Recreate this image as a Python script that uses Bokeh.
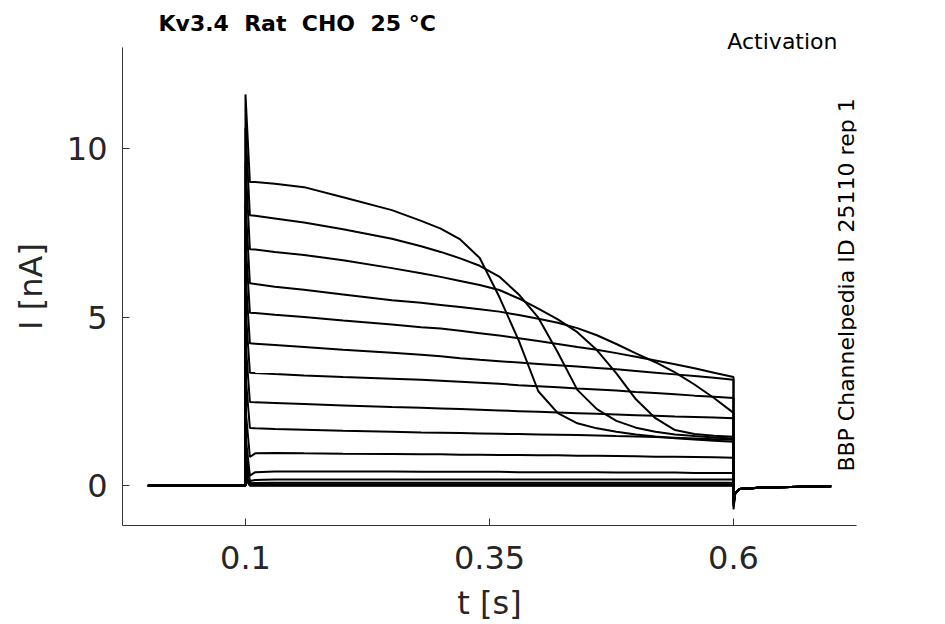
import math
from bokeh.plotting import figure
from bokeh.models import Range1d, FixedTicker, Title, Label
from bokeh.embed import file_html
from bokeh.resources import INLINE

# ---------------- data ----------------
pre_t = [0.0, 0.1]
pre_v = [0.0, 0.0]

step_t = [0.1045, 0.11, 0.13, 0.16, 0.20, 0.25, 0.28, 0.30, 0.32, 0.34, 0.36,
          0.38, 0.40, 0.42, 0.44, 0.46, 0.48, 0.50, 0.52, 0.54, 0.56, 0.58, 0.60]

peaks = [11.6, 10.6, 9.6, 8.4, 7.3, 6.3, 5.3, 4.3, 3.3, 2.3, 1.5, 1.0, 0.7, 0.5, 0.3, 0.2]

sweep_a = [9.00, 9.00, 8.95, 8.85, 8.55, 8.17, 7.85, 7.62, 7.30, 6.75, 5.60,
           4.30, 2.80, 2.15, 1.85, 1.70, 1.60, 1.52, 1.46, 1.41, 1.37, 1.33, 1.30]
sweep_b = [8.02, 8.00, 7.92, 7.80, 7.60, 7.32, 7.10, 6.93, 6.74, 6.52, 6.20,
           5.67, 4.98, 3.95, 2.84, 2.27, 1.92, 1.72, 1.60, 1.52, 1.47, 1.43, 1.40]
sweep_c = [7.01, 7.00, 6.93, 6.84, 6.68, 6.45, 6.30, 6.19, 6.07, 5.95, 5.80,
           5.55, 5.25, 4.93, 4.55, 4.02, 3.33, 2.56, 2.00, 1.65, 1.53, 1.48, 1.45]
sweep_d = [6.00, 5.98, 5.90, 5.81, 5.67, 5.50, 5.42, 5.36, 5.30, 5.23, 5.16,
           5.06, 4.95, 4.83, 4.67, 4.46, 4.20, 3.92, 3.66, 3.36, 3.00, 2.60, 2.16]
sweep_e = [5.13, 5.12, 5.07, 5.00, 4.90, 4.78, 4.70, 4.66, 4.59, 4.52, 4.45,
           4.37, 4.29, 4.20, 4.11, 4.03, 3.93, 3.82, 3.71, 3.60, 3.48, 3.35, 3.22]
sweep_f = [4.22, 4.21, 4.17, 4.11, 4.03, 3.94, 3.88, 3.84, 3.78, 3.73, 3.69,
           3.65, 3.61, 3.57, 3.53, 3.49, 3.45, 3.40, 3.35, 3.30, 3.25, 3.20, 3.14]
sweep_g = [3.35, 3.34, 3.31, 3.27, 3.22, 3.17, 3.14, 3.11, 3.08, 3.05, 3.02,
           2.98, 2.95, 2.92, 2.88, 2.85, 2.82, 2.78, 2.75, 2.71, 2.67, 2.64, 2.60]
sweep_h = [2.48, 2.47, 2.45, 2.42, 2.38, 2.33, 2.31, 2.29, 2.27, 2.25, 2.23,
           2.21, 2.19, 2.17, 2.15, 2.13, 2.11, 2.09, 2.07, 2.05, 2.04, 2.02, 2.00]
sweep_i = [1.71, 1.70, 1.68, 1.66, 1.63, 1.60, 1.58, 1.57, 1.56, 1.55, 1.54,
           1.53, 1.52, 1.51, 1.50, 1.49, 1.47, 1.46, 1.44, 1.42, 1.40, 1.38, 1.36]
sweep_j = [0.85, 0.96, 0.97, 0.96, 0.95, 0.94, 0.93, 0.93, 0.92, 0.92, 0.91,
           0.91, 0.90, 0.90, 0.89, 0.89, 0.88, 0.87, 0.86, 0.86, 0.85, 0.84, 0.83]
sweep_k = [0.30, 0.40, 0.42, 0.42, 0.42, 0.42, 0.41, 0.41, 0.41, 0.41, 0.41,
           0.40, 0.40, 0.40, 0.40, 0.40, 0.39, 0.39, 0.39, 0.39, 0.38, 0.38, 0.38]
sweep_l = [0.14, 0.17, 0.18, 0.18, 0.18, 0.18, 0.18, 0.18, 0.18, 0.18, 0.18,
           0.18, 0.18, 0.18, 0.18, 0.18, 0.18, 0.18, 0.18, 0.18, 0.18, 0.18, 0.18]
sweep_m = [0.07, 0.08, 0.09, 0.09, 0.09, 0.09, 0.09, 0.09, 0.09, 0.09, 0.09,
           0.09, 0.09, 0.09, 0.09, 0.09, 0.09, 0.09, 0.09, 0.09, 0.09, 0.09, 0.09]
sweep_n = [0.04, 0.04, 0.04, 0.04, 0.04, 0.04, 0.04, 0.04, 0.04, 0.04, 0.04,
           0.04, 0.04, 0.04, 0.04, 0.04, 0.04, 0.04, 0.04, 0.04, 0.04, 0.04, 0.04]
sweep_o = [0.01, 0.01, 0.01, 0.01, 0.01, 0.01, 0.01, 0.01, 0.01, 0.01, 0.01,
           0.01, 0.01, 0.01, 0.01, 0.01, 0.01, 0.01, 0.01, 0.01, 0.01, 0.01, 0.01]
sweep_p = [0.00, 0.00, 0.00, 0.00, 0.00, 0.00, 0.00, 0.00, 0.00, 0.00, 0.00,
           0.00, 0.00, 0.00, 0.00, 0.00, 0.00, 0.00, 0.00, 0.00, 0.00, 0.00, 0.00]
sweeps = [sweep_a, sweep_b, sweep_c, sweep_d, sweep_e, sweep_f, sweep_g, sweep_h,
          sweep_i, sweep_j, sweep_k, sweep_l, sweep_m, sweep_n, sweep_o, sweep_p]

dips = [-0.70, -0.62, -0.58, -0.55, -0.50, -0.45, -0.42, -0.38, -0.34, -0.30,
        -0.26, -0.22, -0.20, -0.18, -0.16, -0.15]
tail_t = [0.6, 0.6018, 0.606, 0.63, 0.70]
tail_v = [-0.22, -0.10, -0.05, -0.02]

x_ticks = [0.1, 0.35, 0.6]
x_tick_labels = ["0.1", "0.35", "0.6"]
y_ticks = [0, 5, 10]

title_text = "Kv3.4\u00a0 Rat\u00a0 CHO\u00a0 25 °C"
protocol_text = "Activation"
source_text = "BBP Channelpedia ID 25110 rep 1"

# ---------------- figure ----------------
TXT = "#262626"
FONT = "DejaVu Sans"

p = figure(width=945, height=624, output_backend="svg", toolbar_location=None,
           x_range=Range1d(-0.026, 0.726), y_range=Range1d(-1.18, 12.99),
           min_border_left=122, min_border_right=89, min_border_top=47,
           min_border_bottom=98)
p.outline_line_color = None
p.grid.visible = False
p.background_fill_color = "white"
p.border_fill_color = "white"

for k, sw in enumerate(sweeps):
    xs = pre_t + [0.1] + step_t + tail_t
    ys = pre_v + [peaks[k]] + sw + [dips[k]] + tail_v
    p.line(xs, ys, line_color="black", line_width=2)

for ax in (p.xaxis[0], p.yaxis[0]):
    ax.axis_line_color = "#333333"
    ax.axis_line_width = 1
    ax.major_tick_line_color = "#333333"
    ax.major_tick_in = 7
    ax.major_tick_out = 0
    ax.minor_tick_line_color = None
    ax.major_label_text_font = FONT
    ax.major_label_text_font_size = "32px"
    ax.major_label_text_color = TXT
    ax.axis_label_text_font = FONT
    ax.axis_label_text_font_size = "32px"
    ax.axis_label_text_color = TXT
    ax.axis_label_text_font_style = "normal"

p.xaxis.ticker = FixedTicker(ticks=x_ticks)
p.xaxis.major_label_overrides = {t: s for t, s in zip(x_ticks, x_tick_labels)}
p.yaxis.ticker = FixedTicker(ticks=y_ticks)
p.xaxis.axis_label = "t [s]"
p.yaxis.axis_label = "I [nA]"
p.xaxis.major_label_standoff = 20
p.yaxis.major_label_standoff = 15
p.xaxis.axis_label_standoff = 12
p.yaxis.axis_label_standoff = 14

# vertical caption along the right edge, kept inside the plotting frame
p.add_layout(Label(x=0.7155, y=5.95, text=source_text, text_font=FONT,
                   text_font_size="22px", text_color="black", angle=math.pi / 2,
                   text_align="center", text_baseline="middle"))

p.title.text = title_text
p.title.align = "left"
p.title.offset = 36
p.title.standoff = -5
p.title.text_font = FONT
p.title.text_font_size = "22px"
p.title.text_font_style = "bold"
p.title.text_color = "black"

t2 = Title(text=protocol_text, align="right", offset=19, standoff=-13,
           text_font=FONT, text_font_size="22px", text_font_style="normal",
           text_color="black")
p.add_layout(t2, "above")

open("out.html", "w").write(file_html(p, INLINE))
